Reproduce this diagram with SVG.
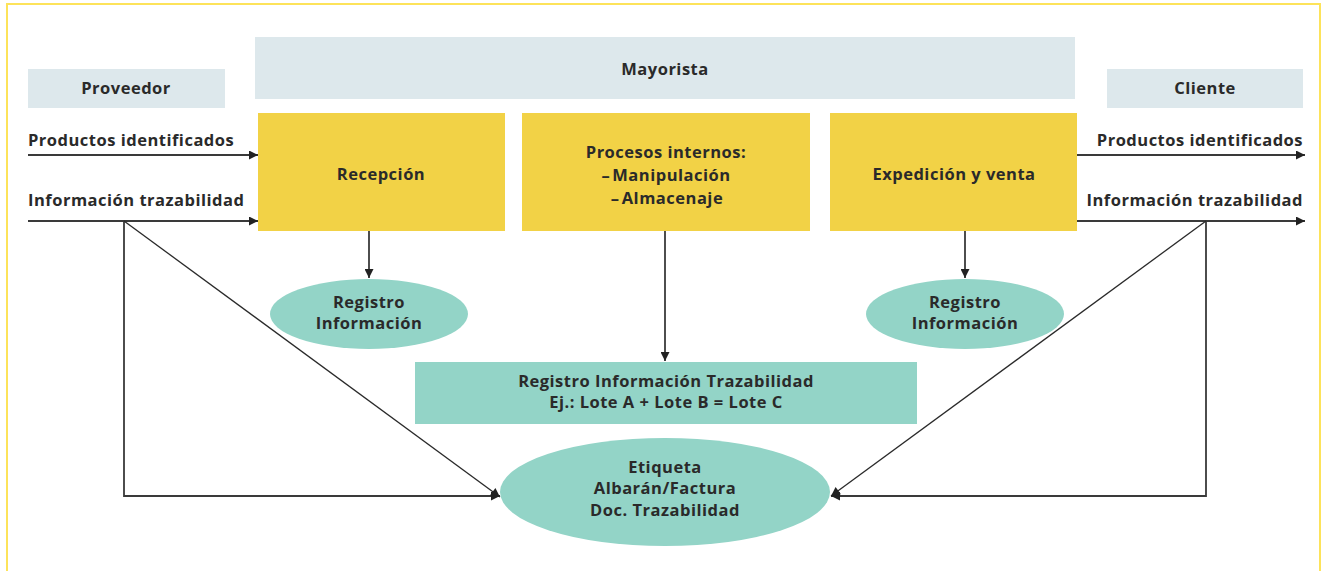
<svg xmlns="http://www.w3.org/2000/svg" width="1324" height="571" viewBox="0 0 1324 571">
<style>
.lb{fill:#dde8ec}
.yl{fill:#f2d246}
.tl{fill:#93d4c7}
text{font-family:"Open Sans","Liberation Sans",sans-serif;font-weight:700;font-size:16.5px;letter-spacing:0.5px;fill:#2a2a2a;text-anchor:middle}
.l{text-anchor:start}
.r{text-anchor:end}
.ln{fill:none;stroke:#2a2a2a;stroke-width:1.3}
.th{stroke-width:1.8;stroke:#3a3a3a}
</style>
<defs>
<marker id="ah" viewBox="0 0 10 10" refX="10" refY="5" markerWidth="12" markerHeight="9" markerUnits="userSpaceOnUse" orient="auto">
<path d="M0,0 L10,5 L0,10 z" fill="#222"/>
</marker>
</defs>
<rect x="7" y="4" width="1313" height="580" fill="none" stroke="#fde35a" stroke-width="2"/>

<g id="proveedor"><rect class="lb" x="28" y="69" width="197" height="39"/><text x="126" y="94">Proveedor</text></g>
<g id="mayorista"><rect class="lb" x="255" y="37" width="820" height="62"/><text x="665" y="75">Mayorista</text></g>
<g id="cliente"><rect class="lb" x="1107" y="69" width="196" height="39"/><text x="1205" y="94">Cliente</text></g>

<g id="recepcion"><rect class="yl" x="258" y="113" width="247" height="118"/><text x="381" y="180">Recepción</text></g>
<g id="procesos"><rect class="yl" x="522" y="113" width="288" height="118"/>
<text x="666" y="158">Procesos internos:</text>
<text x="666" y="181">–&#8202;Manipulación</text>
<text x="667" y="204">–&#8202;Almacenaje</text></g>
<g id="expedicion"><rect class="yl" x="830" y="113" width="247" height="118"/><text x="954" y="180">Expedición y venta</text></g>

<g id="registro1"><ellipse class="tl" cx="369" cy="314" rx="99" ry="35"/><text x="369" y="308">Registro</text><text x="369" y="329">Información</text></g>
<g id="registro2"><ellipse class="tl" cx="965" cy="314" rx="99" ry="35"/><text x="965" y="308">Registro</text><text x="965" y="329">Información</text></g>
<g id="trazabilidad"><rect class="tl" x="415" y="362" width="502" height="62"/><text x="666" y="387">Registro Información Trazabilidad</text><text x="666" y="408">Ej.: Lote A + Lote B = Lote C</text></g>
<g id="etiqueta"><ellipse class="tl" cx="665" cy="492" rx="165" ry="54"/><text x="665" y="473">Etiqueta</text><text x="665" y="494">Albarán/Factura</text><text x="665" y="516">Doc. Trazabilidad</text></g>

<g id="labels">
<text class="l" x="28" y="146">Productos identificados</text>
<text class="l" x="28" y="206">Información trazabilidad</text>
<text class="r" x="1303" y="146">Productos identificados</text>
<text class="r" x="1303" y="206">Información trazabilidad</text>
</g>

<g id="connectors">
<line class="ln th" x1="28" y1="155" x2="258" y2="155" marker-end="url(#ah)"/>
<line class="ln th" x1="28" y1="221" x2="258" y2="221" marker-end="url(#ah)"/>
<line class="ln th" x1="1077" y1="155" x2="1305" y2="155" marker-end="url(#ah)"/>
<line class="ln th" x1="1077" y1="221" x2="1305" y2="221" marker-end="url(#ah)"/>
<polyline class="ln th" points="124,221 124,496 500,496" marker-end="url(#ah)"/>
<line class="ln" x1="124" y1="221" x2="500" y2="497" marker-end="url(#ah)"/>
<polyline class="ln th" points="1206,221 1206,496 831,496" marker-end="url(#ah)"/>
<line class="ln" x1="1206" y1="221" x2="831" y2="496" marker-end="url(#ah)"/>
<line class="ln th" x1="369" y1="231" x2="369" y2="278" marker-end="url(#ah)"/>
<line class="ln th" x1="965" y1="231" x2="965" y2="278" marker-end="url(#ah)"/>
<line class="ln th" x1="665" y1="231" x2="665" y2="361" marker-end="url(#ah)"/>
</g>
</svg>
